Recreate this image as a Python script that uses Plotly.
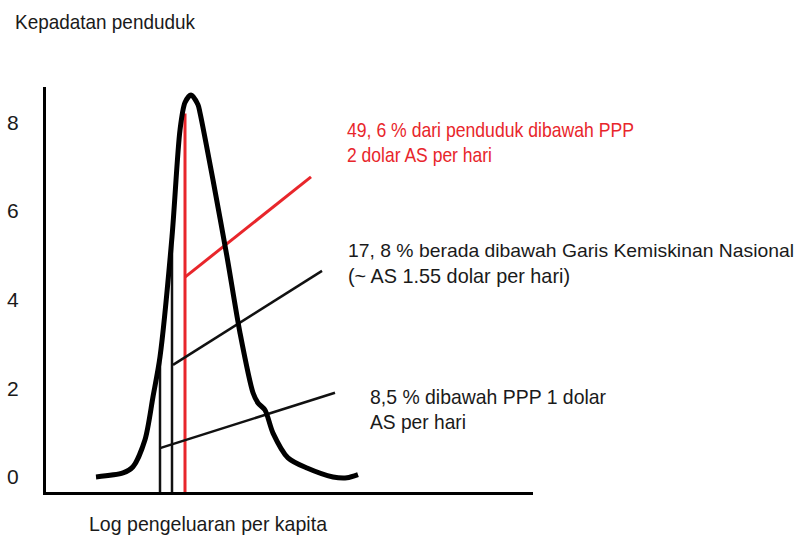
import json
import plotly.graph_objects as go

# ---- data (x: log expenditure, arbitrary units; y: population density) ----
curve_x = [5.0, 7.7, 8.7, 9.9, 10.7, 11.4, 12.6, 13.4, 13.9, 14.5, 15.2, 15.4, 16.7, 18.1, 19.4, 20.7, 21.2, 21.9, 22.7, 24.2, 26.1, 28.7, 30.1, 31.2]
curve_y = [0.0, 0.09, 0.23, 0.84, 1.81, 2.71, 5.42, 7.83, 8.45, 8.62, 8.4, 8.22, 6.7, 4.97, 3.25, 1.9, 1.67, 1.51, 0.99, 0.43, 0.2, 0.0, -0.02, 0.05]

cut_x = [11.4, 12.6, 13.9]          # poverty lines: 1$ PPP, national, 2$ PPP
cut_top = [2.71, 5.42, 8.2]
cut_colors = ["#111111", "#111111", "#e8262b"]

leader_x0 = [11.4, 12.7, 13.9]
leader_y0 = [0.65, 2.53, 4.51]
leader_x1 = [28.9, 27.6, 26.5]
leader_y1 = [1.90, 4.65, 6.77]

label_lines = [
    ["8,5 % dibawah PPP 1 dolar", "AS per hari"],
    ["17, 8 % berada dibawah Garis Kemiskinan Nasional", "(~ AS 1.55 dolar per hari)"],
    ["49, 6 % dari penduduk dibawah PPP", "2 dolar AS per hari"],
]
label_x = [32.2, 30.0, 29.9]
label_y = [[1.82, 1.25], [5.11, 4.54], [7.84, 7.27]]

y_ticks = [0, 2, 4, 6, 8]
y_title = "Kepadatan penduduk"
x_title = "Log pengeluaran per kapita"

# styling: condensed look obtained by fitting each text to its width in the picture
FONT = "Liberation Sans, Arial, sans-serif"
FS = 21
text_widths = {
    y_title: 180, x_title: 238,
    label_lines[0][0]: 236, label_lines[0][1]: 96,
    label_lines[1][0]: 446, label_lines[1][1]: 222,
    label_lines[2][0]: 287, label_lines[2][1]: 145,
}
font_sizes = {label_lines[1][0]: 19}

fig = go.Figure()

# vertical cut lines
for i in range(3):
    fig.add_trace(go.Scatter(x=[cut_x[i], cut_x[i]], y=[-0.34, cut_top[i]], mode="lines",
                             line=dict(color=cut_colors[i], width=3 if i == 2 else 2.5),
                             showlegend=False, hoverinfo="skip"))
# leader lines
for i in range(3):
    fig.add_trace(go.Scatter(x=[leader_x0[i], leader_x1[i]], y=[leader_y0[i], leader_y1[i]], mode="lines",
                             line=dict(color=cut_colors[i], width=3 if i == 2 else 2.5),
                             showlegend=False, hoverinfo="skip"))
# density curve
fig.add_trace(go.Scatter(x=curve_x, y=curve_y, mode="lines",
                         line=dict(color="black", width=5, shape="spline", smoothing=0.8),
                         showlegend=False, hoverinfo="skip"))

annotations = []
for i in range(3):
    for j, line in enumerate(label_lines[i]):
        annotations.append(dict(x=label_x[i], y=label_y[i][j], xref="x", yref="y", text=line,
                                showarrow=False, xanchor="left", yanchor="middle", align="left",
                                font=dict(family=FONT, size=font_sizes.get(line, FS),
                                          color="#e8262b" if i == 2 else "#1a1a1a")))
annotations.append(dict(x=13, y=22, xref="paper", yref="paper", text=y_title, showarrow=False,
                        xanchor="left", yanchor="middle", align="left",
                        font=dict(family=FONT, size=FS, color="#1a1a1a")))
annotations.append(dict(x=87, y=523, xref="paper", yref="paper", text=x_title, showarrow=False,
                        xanchor="left", yanchor="middle", align="left",
                        font=dict(family=FONT, size=FS, color="#1a1a1a")))

# convert pixel-positioned titles to paper coords
W, H = 796, 536
ml, mr, mt, mb = 46, 263, 87, 44
pw, ph = W - ml - mr, H - mt - mb
for a in annotations[-2:]:
    a["x"] = (a["x"] - ml) / pw
    a["y"] = (H - mb - a["y"]) / ph

fig.update_layout(
    width=W, height=H, margin=dict(l=ml, r=mr, t=mt, b=mb),
    plot_bgcolor="white", paper_bgcolor="white",
    annotations=annotations,
    xaxis=dict(range=[0, 48.7], showgrid=False, zeroline=False, showticklabels=False, ticks="",
               showline=True, linecolor="black", linewidth=3, fixedrange=True, automargin=False),
    yaxis=dict(range=[-0.34, 8.8], showgrid=False, zeroline=False, tickvals=y_ticks,
               ticks="", ticklabelstandoff=20, tickfont=dict(family=FONT, size=FS, color="#1a1a1a"),
               showline=True, linecolor="black", linewidth=3, fixedrange=True, automargin=False),
)

post = """
document.body.style.margin = '0';
document.body.style.overflow = 'hidden';
var widths = %s;
document.querySelectorAll('.annotation-text').forEach(function(e){
  var w = widths[e.textContent];
  if (w) {
    e.setAttribute('textLength', w);
    e.setAttribute('lengthAdjust', 'spacingAndGlyphs');
    var r = e.parentNode.querySelector('rect.bg');
    if (r) { r.setAttribute('width', w + 2); }
  }
});
""" % json.dumps(text_widths)
fig.write_html("out.html", post_script=post, config={"displayModeBar": False})
